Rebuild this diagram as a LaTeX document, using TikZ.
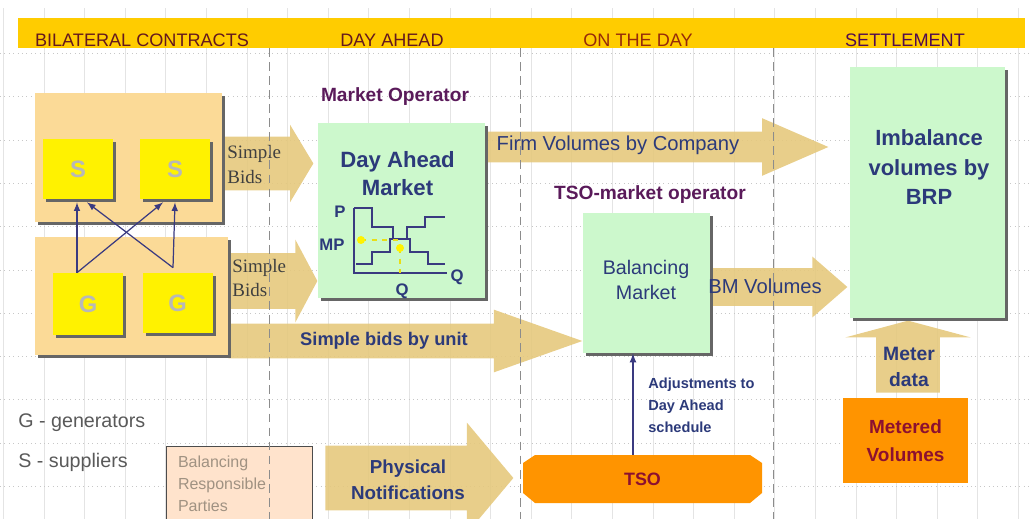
\documentclass[tikz,border=0pt]{standalone}
\usepackage{fontspec}
\setmainfont{Liberation Sans}
\newfontfamily\bidsfont{Liberation Serif}
\usetikzlibrary{shapes.arrows,shadows}

\definecolor{bandgold}{RGB}{255,204,0}
\definecolor{headred}{RGB}{100,24,30}
\definecolor{headorange}{RGB}{150,42,10}
\definecolor{headpurple}{RGB}{80,10,80}
\definecolor{tanbox}{RGB}{251,218,151}
\definecolor{tanarrow}{RGB}{229,201,125}
\definecolor{marketgreen}{RGB}{204,248,204}
\definecolor{navytext}{RGB}{44,58,122}
\definecolor{arrownavy}{RGB}{58,58,128}
\definecolor{oppurple}{RGB}{90,26,90}
\definecolor{tsoorange}{RGB}{255,148,0}
\definecolor{tsored}{RGB}{140,16,48}
\definecolor{brpfill}{RGB}{255,227,204}
\definecolor{brptext}{RGB}{160,146,130}
\definecolor{lettergray}{RGB}{184,184,184}
\definecolor{gridgray}{RGB}{228,228,228}

\newdimen\pxu \pxu=0.2mm

\tikzset{
  header/.style={font=\fontsize{10.3}{12}\selectfont, inner sep=0pt},
  boxshadow/.style={drop shadow={shadow xshift=0.6mm, shadow yshift=-0.6mm, fill=black!60, opacity=1}},
  tanrect/.style={fill=tanbox, boxshadow, inner sep=0pt},
  partybox/.style={fill=yellow, boxshadow, inner sep=0pt, minimum width=70\pxu,
    font=\fontsize{13.5}{15}\selectfont\bfseries, text=lettergray},
  marketbox/.style={fill=marketgreen, boxshadow, inner sep=0pt},
  flowarrow/.style={single arrow, fill=tanarrow, fill opacity=0.9, inner xsep=0pt, anchor=tail},
  oplabel/.style={text=oppurple, font=\fontsize{10.9}{13}\selectfont\bfseries, inner sep=0pt},
  bigtitle/.style={text=navytext, align=center, font=\fontsize{12.6}{15.9}\selectfont\bfseries, inner sep=0pt},
  flowtext/.style={text=navytext, font=\fontsize{11.5}{14}\selectfont, inner sep=0pt},
  midtitle/.style={text=navytext, align=center, font=\fontsize{11.2}{14.2}\selectfont, inner sep=0pt},
  boldtext/.style={text=navytext, align=center, font=\fontsize{10.7}{14.8}\selectfont\bfseries, inner sep=0pt},
  axislabel/.style={text=navytext, font=\fontsize{9.5}{11}\selectfont\bfseries, inner sep=0pt},
  bidslabel/.style={anchor=west, align=left, text=black!75, font=\bidsfont\fontsize{10.8}{14.2}\selectfont, inner sep=0pt},
  legend/.style={anchor=west, text=black!65, font=\fontsize{11.2}{13}\selectfont, inner sep=0pt},
  contract/.style={draw=arrownavy, line width=0.7pt, -latex},
  gridcol/.style={draw=gridgray, line width=0.4pt},
  gridrow/.style={draw=black!22, dotted, line width=0.5pt},
  separator/.style={draw=black!45, dashed, dash pattern=on 5pt off 3pt, line width=0.5pt}
}

\begin{document}
\begin{tikzpicture}[x=0.2mm, y=-0.2mm]
\useasboundingbox (0,0) rectangle (1030,519);

\foreach \gx in {0,...,25} \draw[gridcol] ({3.4+40.6*\gx},8) -- ({3.4+40.6*\gx},519);
\foreach \gy in {0,...,10} \draw[gridrow] (0,{53.5+43.3*\gy}) -- (1030,{53.5+43.3*\gy});

\node[fill=bandgold, minimum width=1007\pxu, minimum height=30\pxu, inner sep=0pt] (band) at (521.5,33) {};
\node[header, text=headred] (BIL) at (142,40) {BILATERAL CONTRACTS};
\node[header, text=headred] (DA) at (392,40) {DAY AHEAD};
\node[header, text=headorange] (OTD) at (638,40) {ON THE DAY};
\node[header, text=headpurple] (SET) at (905,40) {SETTLEMENT};

\node[flowarrow, inner ysep=26.5\pxu, minimum height=91\pxu, minimum width=77\pxu, single arrow head extend=12\pxu, single arrow tip angle=118] (SB1) at (222,163.5) {};
\node[flowarrow, inner ysep=27.5\pxu, minimum height=89\pxu, minimum width=82\pxu, single arrow head extend=13.5\pxu, single arrow tip angle=124] (SB2) at (228,281) {};
\node[flowarrow, inner ysep=17\pxu, minimum height=354\pxu, minimum width=62\pxu, single arrow head extend=14\pxu, single arrow tip angle=39] (SBU) at (228,341) {};
\node[flowarrow, inner ysep=15\pxu, minimum height=343\pxu, minimum width=57\pxu, single arrow head extend=13.5\pxu, single arrow tip angle=47] (FV) at (485,147) {};
\node[flowarrow, inner ysep=18.5\pxu, minimum height=137\pxu, minimum width=60\pxu, single arrow head extend=11.5\pxu, single arrow tip angle=82] (BMV) at (710,287) {};
\node[flowarrow, inner xsep=31.5\pxu, inner ysep=0pt, minimum height=72\pxu, minimum width=125\pxu, single arrow head extend=31\pxu, single arrow tip angle=150, shape border rotate=90] (MD) at (908,393) {};
\node[flowarrow, inner ysep=32\pxu, minimum height=188\pxu, minimum width=110\pxu, single arrow head extend=23\pxu, single arrow tip angle=100] (PN) at (325,478) {};

\node[tanrect, minimum width=187\pxu, minimum height=129\pxu] (SUP) at (128.5,157.5) {};
\node[tanrect, minimum width=193\pxu, minimum height=118\pxu] (GEN) at (131.5,296) {};
\node[partybox, minimum height=60\pxu] (S1) at (78,169) {S};
\node[partybox, minimum height=60\pxu] (S2) at (175,169) {S};
\node[partybox, minimum height=62\pxu] (G1) at (88,304) {G};
\node[partybox, minimum height=60\pxu] (G2) at (177.5,303) {G};

\draw[contract] ([xshift=-11\pxu]G1.north) -- ([xshift=-1\pxu,yshift=-3\pxu]S1.south);
\draw[contract] ([xshift=-11\pxu]G1.north) -- ([xshift=-12\pxu,yshift=-3\pxu]S2.south);
\draw[contract] ([xshift=-4.5\pxu,yshift=5\pxu]G2.north) -- ([xshift=9\pxu,yshift=-3\pxu]S1.south);
\draw[contract] ([xshift=-4.5\pxu,yshift=5\pxu]G2.north) -- ([yshift=-3\pxu]S2.south);

\node[bidslabel] (SBt1) at (227,164.5) {Simple\\Bids};
\node[bidslabel] (SBt2) at (232,278) {Simple\\Bids};
\node[boldtext, font=\fontsize{10.4}{12}\selectfont\bfseries] (SBUt) at (384,341) {Simple bids by unit};

\node[oplabel] (MO) at (395,97) {Market Operator};
\node[marketbox, minimum width=167\pxu, minimum height=175\pxu] (DAM) at (401.5,210.5) {};
\node[bigtitle] (DAMt) at (397.5,174) {Day Ahead\\Market};
\draw[arrownavy, line width=0.6pt] (354,208) -- (354,273) -- (447,273);
\draw[arrownavy, line width=0.6pt] (354,208) -- (372,208) -- (372,227) -- (393,227) -- (393,239) -- (410,239) -- (410,252) -- (428,252) -- (428,264) -- (445,264);
\draw[arrownavy, line width=0.6pt] (356,264) -- (372,264) -- (372,252) -- (390,252) -- (390,239) -- (407,239) -- (407,227) -- (425,227) -- (425,217) -- (445,217);
\draw[yellow!90!black, dashed, line width=0.6pt] (361,240) -- (398,240);
\draw[yellow!90!black, dashed, line width=0.6pt] (400,248) -- (400,273);
\fill[yellow] (361,240) circle (4\pxu);
\fill[yellow] (400,248) circle (4\pxu);
\node[axislabel] (P) at (340,212) {P};
\node[axislabel] (MP) at (332,245) {MP};
\node[axislabel] (Qx) at (457,277) {Q};
\node[axislabel] (Qb) at (402,291) {Q};

\node[flowtext] (FVt) at (618,145) {Firm Volumes by Company};
\node[oplabel] (TMO) at (650,195) {TSO-market operator};
\node[marketbox, minimum width=127\pxu, minimum height=140\pxu] (BM) at (646.5,283) {};
\node[midtitle] (BMt) at (646,279.5) {Balancing\\Market};
\node[flowtext] (BMVt) at (765,286) {BM Volumes};

\node[marketbox, minimum width=155\pxu, minimum height=251\pxu] (IMB) at (927.5,192.5) {};
\node[bigtitle, font=\fontsize{12.5}{16.8}\selectfont\bfseries] (IMBt) at (929,167.5) {Imbalance\\volumes by\\BRP};
\node[boldtext, font=\fontsize{11}{14.8}\selectfont\bfseries] (MDt) at (909,366.5) {Meter\\data};
\node[fill=tsoorange, minimum width=125\pxu, minimum height=85\pxu, inner sep=0pt, align=center, text=tsored, font=\fontsize{10.8}{15.9}\selectfont\bfseries] (MV) at (905.5,440.5) {Metered\\Volumes};

\fill[tsoorange] (523,463) -- (535,455) -- (750,455) -- (762,463) -- (762,493) -- (750,503) -- (535,503) -- (523,493) -- cycle;
\node[minimum width=239\pxu, minimum height=48\pxu, inner sep=0pt, text=tsored, font=\fontsize{10.2}{12}\selectfont\bfseries] (TSO) at (642.5,479) {TSO};
\draw[arrownavy, line width=0.8pt, -latex] ([xshift=-9.5\pxu]TSO.north) -- ([xshift=-9.5\pxu]TSO.north |- BM.south);
\node[anchor=west, align=left, text=navytext, font=\fontsize{8.3}{12.5}\selectfont\bfseries, inner sep=0pt] (ADJ) at (648,405) {Adjustments to\\Day Ahead\\schedule};

\node[legend] (LG) at (18,423) {G - generators};
\node[legend] (LS) at (18,462) {S - suppliers};
\node[draw=black!70, fill=brpfill, minimum width=146\pxu, minimum height=76\pxu, text width=122\pxu, align=left, inner xsep=12\pxu, text=brptext, font=\fontsize{9.1}{12.5}\selectfont] (BRP) at (239,484) {Balancing\\Responsible\\Parties};
\node[boldtext] (PNt) at (408,480) {Physical\\Notifications};

\foreach \sx in {269,520,773} \draw[separator] (\sx,48) -- (\sx,519);
\end{tikzpicture}
\end{document}
